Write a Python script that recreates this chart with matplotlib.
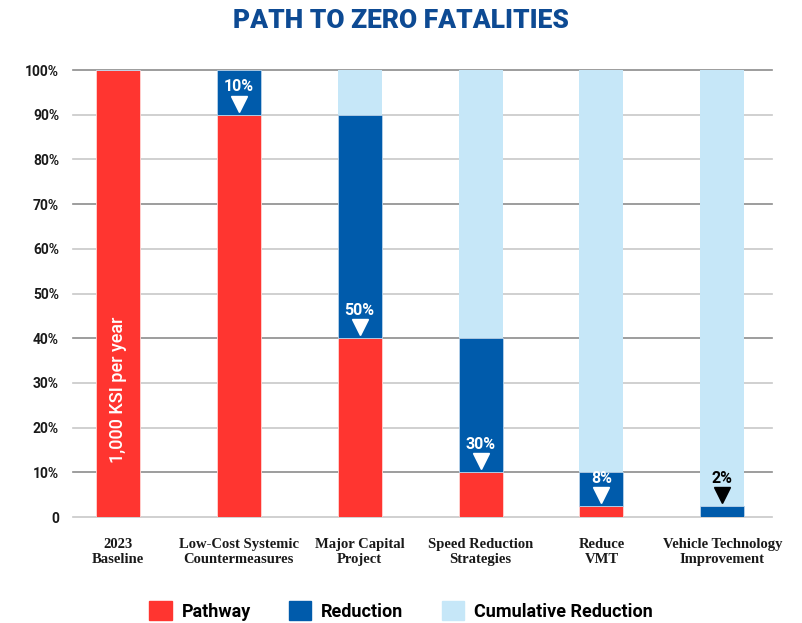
##stacked bar chart: path to zero fatalities
import matplotlib
matplotlib.use("Agg")
import matplotlib.pyplot as plt
import matplotlib.patches as mpatches
from matplotlib.transforms import offset_copy
import numpy as np

##data
categories = ["2023\nBaseline", "Low-Cost Systemic\nCountermeasures", "Major Capital\nProject",
              "Speed Reduction\nStrategies", "Reduce\nVMT", "Vehicle Technology\nImprovement"]
pathway = [100, 90, 40, 10, 2.4, 0]
reduction = [0, 10, 50, 30, 7.6, 2.4]
cumulative = [0, 0, 10, 60, 90, 97.6]
reduction_labels = ["", "10%", "50%", "30%", "8%", "2%"]
yticks = [0, 10, 20, 30, 40, 50, 60, 70, 80, 90, 100]
ytick_labels = ["0"] + [str(v) + "%" for v in yticks[1:]]

##colours
red = "#ff3530"
blue = "#005bab"
light = "#c6e7f8"
title_blue = "#0d4a93"

fig = plt.figure(figsize=(8.02, 6.23), dpi=100)
ax = fig.add_axes([0.091, 0.1701, 0.8716, 0.7175])

x = np.arange(len(categories))
w = 0.364
bottom2 = np.array(pathway)
bottom3 = bottom2 + np.array(reduction)

#grid lines
for v in yticks:
    c = "#8c8c8c" if v % 30 == 10 else "#c8c8c8"
    ax.axhline(v, color=c, linewidth=1.2, zorder=0, clip_on=False)

ax.bar(x, pathway, w, color=red, edgecolor="#ffd6d4", linewidth=0.6, zorder=2)
ax.bar(x, reduction, w, bottom=bottom2, color=blue, edgecolor="#b9d3ea", linewidth=0.6, zorder=2)
ax.bar(x, cumulative, w, bottom=bottom3, color=light, zorder=2)

##annotations for the reduction steps
tri_tr = offset_copy(ax.transData, fig=fig, x=0, y=11, units="dots")
for i, lab in enumerate(reduction_labels):
    if lab == "":
        continue
    anchor = pathway[i] if pathway[i] > 0 else pathway[i] + reduction[i]
    col = "white" if pathway[i] > 0 else "black"
    ax.annotate(lab, (x[i], anchor), xytext=(0, 28), textcoords="offset pixels",
                ha="center", va="center", color=col, fontsize=11.5,
                fontweight="bold", family="Roboto", zorder=4)
    ax.plot([x[i]], [anchor], marker="v", markersize=12, color=col, zorder=4,
            linestyle="none", transform=tri_tr)

ax.text(x[0], 28.5, "1,000 KSI per year", rotation=90, ha="center", va="center",
        color="white", fontsize=13, fontweight="medium", family="Roboto", zorder=4)

##axes design
ax.set_xlim(-0.37, 5.41)
ax.set_ylim(0, 100)
for s in ax.spines.values():
    s.set_visible(False)
ax.set_yticks(yticks)
ax.set_yticklabels(ytick_labels, fontsize=10, fontweight="bold", family="Roboto", color="#1a1a1a")
ax.set_xticks(x)
ax.set_xticklabels(categories, fontsize=10.5, fontweight="bold", family="Liberation Serif",
                   color="#1a1a1a", linespacing=1.25)
ax.tick_params(axis="y", length=0, pad=10)
ax.tick_params(axis="x", length=0, pad=15)

fig.text(0.5, 0.967, "PATH TO ZERO FATALITIES", ha="center", va="center", fontsize=19,
         fontweight="black", family="Roboto", color=title_blue)

handles = [mpatches.Patch(color=red, label="Pathway"),
           mpatches.Patch(color=blue, label="Reduction"),
           mpatches.Patch(color=light, label="Cumulative Reduction")]
leg = fig.legend(handles=handles, loc="center", bbox_to_anchor=(0.5, 0.019), ncol=3,
                 frameon=False, handlelength=1.25, handleheight=1.25, handletextpad=0.55,
                 columnspacing=2.1, prop={"family": "Roboto", "weight": "bold", "size": 13})

plt.savefig("out.png", dpi=100)
